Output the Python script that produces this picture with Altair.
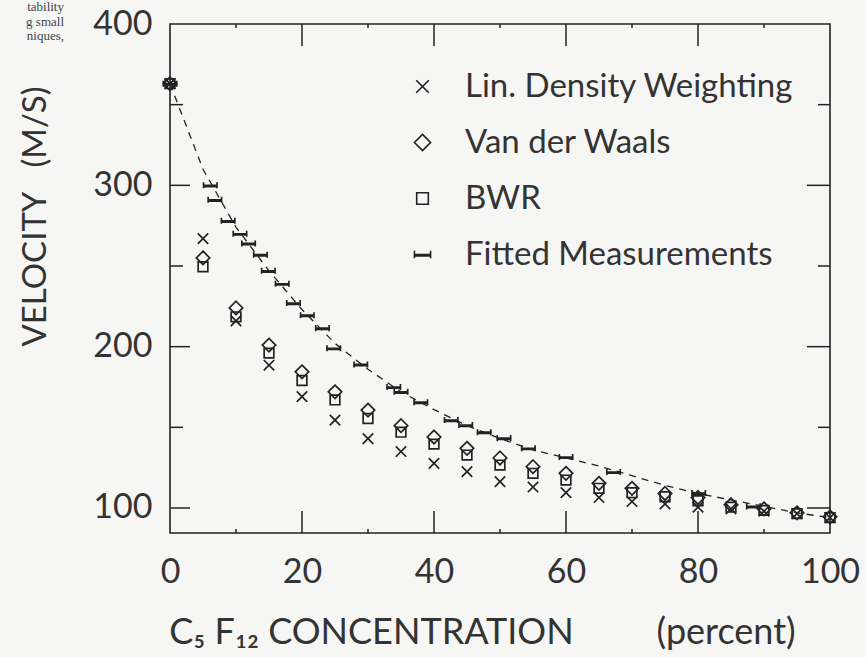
import altair as alt
import pandas as pd

# ---- data ----
conc = [0, 5, 10, 15, 20, 25, 30, 35, 40, 45, 50, 55, 60, 65, 70, 75, 80, 85, 90, 95, 100]
lin_density = [363, 267, 216, 188.5, 169, 154.5, 143, 135, 127.7, 122.5, 116.3, 113, 109.5, 106.5, 104, 102.5, 100.5, 99.5, 98, 96.5, 94]
van_der_waals = [363, 255, 224, 201, 184.4, 172, 160.7, 151, 144, 137, 131, 125.6, 121.5, 115.3, 112.2, 109, 106.5, 102, 99.5, 97, 94.5]
bwr = [363, 249.5, 218.5, 196, 179, 167, 155.5, 147, 139.6, 132.8, 126.6, 121.5, 117.3, 112.2, 109.5, 107, 104.5, 100.5, 98.5, 96.5, 94]

fit_x = [0, 6.1, 6.8, 8.8, 10.6, 11.9, 13.7, 14.9, 17.0, 18.7, 20.8, 23.1, 24.8, 28.9, 33.9, 35.0,
         38.0, 42.6, 44.8, 47.6, 50.6, 54.3, 60.0, 67.2, 80.1, 88.4]
fit_v = [363, 300, 291, 278, 270, 264, 257, 247, 239, 227, 219.5, 211.5, 199, 189, 175, 172,
         165.6, 154.5, 151.4, 147, 143.3, 137, 131.6, 122.3, 109.3, 101]

curve_x = [0, 5, 10, 15, 20, 25, 30, 35, 40, 45, 50, 55, 60, 65, 70, 75, 80, 85, 90, 95, 100]
curve_v = [363, 310, 274, 247, 223, 202, 186, 172, 161, 151, 143, 136, 131, 126, 120, 114, 109, 105, 101, 97, 94]

series_names = ["Lin. Density Weighting", "Van der Waals", "BWR", "Fitted Measurements"]
x_ticks = [0, 20, 40, 60, 80, 100]
y_ticks = [100, 200, 300, 400]
x_major = [20, 40, 60, 80]
x_minor = [10, 30, 50, 70, 90]
y_major = [100, 200, 300]
y_minor = [150, 250, 350]
page_fragment = "tability\ng small\nniques,"
NB = "\u00a0"
x_title = "C\u2085 F\u2081\u2082 CONCENTRATION" + NB * 9 + "(percent)"
y_title = "VELOCITY" + NB * 3 + "(M/S)"

# ---- tables ----
rows = []
for name, vals in zip(series_names[:3], [lin_density, van_der_waals, bwr]):
    for c, v in zip(conc, vals):
        rows.append({"x": c, "v": v, "series": name})
for c, v in zip(fit_x, fit_v):
    rows.append({"x": c, "v": v, "series": series_names[3]})
pts = pd.DataFrame(rows)
curve = pd.DataFrame({"x": curve_x, "v": curve_v})

W, H = 660, 509
FONT = "Lato"
INK = "#222222"
TXT = "#333333"

xs = alt.Scale(domain=[0, 100], nice=False, zero=False)
ys = alt.Scale(domain=[84.5, 400], nice=False, zero=False)
xaxis = alt.Axis(values=x_ticks, grid=False, ticks=False, domain=False, labelFontSize=34,
                 labelFont=FONT, labelColor=TXT, labelPadding=22, labelFlush=False,
                 title=x_title, titleFont=FONT,
                 titleFontSize=36, titleFontWeight="normal", titleColor=TXT,
                 titleX=312, titleY=99, titleBaseline="middle")
yaxis = alt.Axis(values=y_ticks, grid=False, ticks=False, domain=False, labelFontSize=34,
                 labelFont=FONT, labelColor=TXT, labelPadding=18, labelFlush=False,
                 title=y_title, titleFont=FONT, titleFontSize=33,
                 titleFontWeight="normal", titleColor=TXT, titleX=-135, titleY=192,
                 titleBaseline="middle", titleAngle=-90)
X = alt.X("x:Q", scale=xs, axis=xaxis)
Y = alt.Y("v:Q", scale=ys, axis=yaxis)

shape_paths = [
    "M-0.78,-0.78L0.78,0.78M-0.78,0.78L0.78,-0.78",
    "M0,-1L1,0L0,1L-1,0Z",
    "M-0.72,-0.72L0.72,-0.72L0.72,0.72L-0.72,0.72Z",
    "M-1,0L1,0M-1,-0.45L-1,0.45M1,-0.45L1,0.45M-1,0.18L1,0.18",
]

line = alt.Chart(curve).mark_line(color=INK, strokeWidth=1.3, strokeDash=[7, 6]).encode(x=X, y=Y)

points = alt.Chart(pts).mark_point(filled=False, size=180, strokeWidth=1.7, color=INK, opacity=1).encode(
    x=X, y=Y,
    shape=alt.Shape("series:N", sort=series_names,
                    scale=alt.Scale(domain=series_names, range=shape_paths),
                    legend=alt.Legend(title=None, orient="none", legendX=236, legendY=46,
                                      labelFontSize=33, labelFont=FONT, labelColor=TXT,
                                      labelLimit=600, labelOffset=26, rowPadding=22,
                                      symbolSize=260, symbolStrokeWidth=1.6,
                                      symbolStrokeColor=INK, symbolFillColor="transparent",
                                      padding=0)),
)

def vrules(vals, x0, x1):
    return alt.Chart(pd.DataFrame({"v": vals})).mark_rule(color=INK, strokeWidth=1.5).encode(
        y=Y, x=alt.value(x0), x2=alt.value(x1))

def hrules(vals, y0, y1):
    return alt.Chart(pd.DataFrame({"x": vals})).mark_rule(color=INK, strokeWidth=1.5).encode(
        x=X, y=alt.value(y0), y2=alt.value(y1))

tick_layers = [
    vrules(y_major, 0, 20), vrules(y_minor, 0, 13),
    vrules(y_major, W - 23, W), vrules(y_minor, W - 12, W),
    hrules(x_major, H, H - 22), hrules(x_minor, H, H - 4),
    hrules(x_major, 0, 22), hrules(x_minor, 0, 4),
]

fragment = alt.Chart(pd.DataFrame({"a": [0]})).mark_text(
    align="right", baseline="top", font="Liberation Serif", fontSize=13, color="#444444",
    lineBreak="\n", lineHeight=14.5).encode(
    x=alt.value(-106), y=alt.value(-23), text=alt.value(page_fragment))

chart = alt.layer(line, *tick_layers, points, fragment).properties(
    width=W, height=H,
    autosize=alt.AutoSizeParams(type="none"),
    padding={"left": 170, "top": 24, "right": 36, "bottom": 124},
    background="#f6f6f4",
).configure_view(stroke=INK, strokeWidth=1.6)

chart.save("out.html", embed_options={"renderer": "svg", "actions": False})
